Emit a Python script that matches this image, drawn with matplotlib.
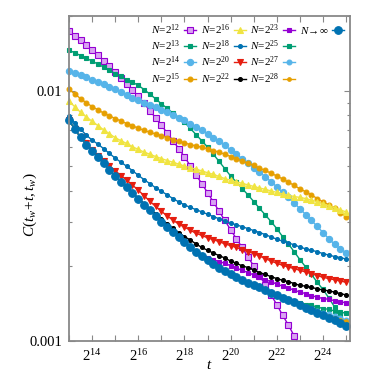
import numpy as np
import matplotlib
matplotlib.use("Agg")
import matplotlib.pyplot as plt
from matplotlib.lines import Line2D

plt.rcParams['font.family'] = 'serif'
plt.rcParams['font.serif'] = ['Liberation Serif']
plt.rcParams['mathtext.fontset'] = 'custom'
plt.rcParams['mathtext.rm'] = 'Liberation Serif'
plt.rcParams['mathtext.it'] = 'Liberation Serif:italic'

# t = 2^k, k in quarter steps
log2_t = [13, 13.25, 13.5, 13.75, 14, 14.25, 14.5, 14.75, 15, 15.25, 15.5, 15.75,
          16, 16.25, 16.5, 16.75, 17, 17.25, 17.5, 17.75, 18, 18.25, 18.5, 18.75,
          19, 19.25, 19.5, 19.75, 20, 20.25, 20.5, 20.75, 21, 21.25, 21.5, 21.75,
          22, 22.25, 22.5, 22.75, 23, 23.25, 23.5, 23.75, 24, 24.25, 24.5, 24.75, 25]

c_n12 = [0.01742, 0.01671, 0.01603, 0.01535, 0.01469, 0.01396, 0.01327, 0.01259, 0.01194,
         0.01132, 0.01072, 0.01012, 0.00955, 0.00895, 0.00837, 0.00783, 0.00731, 0.00682,
         0.00635, 0.00590, 0.00547, 0.00504, 0.00463, 0.00427, 0.00393, 0.00361, 0.00331,
         0.00304, 0.00279, 0.00257, 0.00237, 0.00217, 0.00200, 0.00183, 0.00168, 0.00153,
         0.00140, 0.00127, 0.00116, 0.00105, 0.00095]
c_n13 = [0.01459, 0.01426, 0.01390, 0.01355, 0.01321, 0.01285, 0.01250, 0.01213, 0.01178,
         0.01146, 0.01114, 0.01086, 0.01057, 0.01016, 0.00975, 0.00933, 0.00891, 0.00855,
         0.00818, 0.00785, 0.00752, 0.00711, 0.00671, 0.00634, 0.00598, 0.00560, 0.00524,
         0.00490, 0.00458, 0.00433, 0.00408, 0.00385, 0.00362, 0.00340, 0.00320, 0.00301,
         0.00282, 0.00262, 0.00245, 0.00228, 0.00212, 0.00198, 0.00185, 0.00172, 0.00161,
         0.00149, 0.00137, 0.00127, 0.00117]
c_n14 = [0.01202, 0.01180, 0.01159, 0.01138, 0.01114, 0.01091, 0.01067, 0.01042, 0.01019,
         0.00993, 0.00968, 0.00944, 0.00920, 0.00899, 0.00881, 0.00863, 0.00843, 0.00824,
         0.00804, 0.00785, 0.00766, 0.00743, 0.00721, 0.00698, 0.00676, 0.00653, 0.00630,
         0.00607, 0.00583, 0.00560, 0.00537, 0.00516, 0.00495, 0.00475, 0.00455, 0.00435,
         0.00414, 0.00394, 0.00376, 0.00357, 0.00339, 0.00321, 0.00304, 0.00288, 0.00272,
         0.00257, 0.00244, 0.00234, 0.00226]
c_n15 = [0.01019, 0.00975, 0.00935, 0.00899, 0.00869, 0.00843, 0.00818, 0.00798, 0.00778,
         0.00760, 0.00743, 0.00728, 0.00711, 0.00698, 0.00685, 0.00675, 0.00664, 0.00653,
         0.00641, 0.00631, 0.00621, 0.00612, 0.00604, 0.00597, 0.00589, 0.00579, 0.00570,
         0.00560, 0.00548, 0.00537, 0.00526, 0.00515, 0.00505, 0.00493, 0.00482, 0.00470,
         0.00458, 0.00446, 0.00433, 0.00420, 0.00407, 0.00396, 0.00385, 0.00372, 0.00361,
         0.00351, 0.00340, 0.00327, 0.00315]
c_n16 = [0.00914, 0.00867, 0.00824, 0.00789, 0.00759, 0.00729, 0.00701, 0.00676, 0.00652,
         0.00634, 0.00618, 0.00600, 0.00585, 0.00571, 0.00560, 0.00548, 0.00538, 0.00528,
         0.00520, 0.00511, 0.00502, 0.00494, 0.00488, 0.00480, 0.00472, 0.00465, 0.00456,
         0.00447, 0.00440, 0.00434, 0.00428, 0.00422, 0.00416, 0.00410, 0.00405, 0.00399,
         0.00394, 0.00388, 0.00384, 0.00379, 0.00376, 0.00372, 0.00367, 0.00361, 0.00355,
         0.00348, 0.00342, 0.00335, 0.00329]
c_n18 = [0.00794, 0.00748, 0.00705, 0.00668, 0.00637, 0.00615, 0.00589, 0.00564, 0.00540,
         0.00520, 0.00501, 0.00481, 0.00461, 0.00443, 0.00427, 0.00411, 0.00398, 0.00385,
         0.00372, 0.00361, 0.00351, 0.00343, 0.00336, 0.00329, 0.00322, 0.00315, 0.00309,
         0.00303, 0.00297, 0.00292, 0.00287, 0.00282, 0.00277, 0.00272, 0.00267, 0.00261,
         0.00256, 0.00251, 0.00247, 0.00243, 0.00238, 0.00234, 0.00231, 0.00228, 0.00224,
         0.00221, 0.00218, 0.00216, 0.00213]
c_n20 = [0.00766, 0.00706, 0.00658, 0.00618, 0.00583, 0.00553, 0.00527, 0.00504, 0.00481,
         0.00460, 0.00441, 0.00421, 0.00402, 0.00382, 0.00363, 0.00346, 0.00331, 0.00317,
         0.00305, 0.00294, 0.00286, 0.00278, 0.00270, 0.00265, 0.00259, 0.00255, 0.00250,
         0.00245, 0.00241, 0.00237, 0.00232, 0.00228, 0.00224, 0.00219, 0.00214, 0.00209,
         0.00205, 0.00201, 0.00198, 0.00195, 0.00192, 0.00189, 0.00186, 0.00183, 0.00180,
         0.00178, 0.00176, 0.00174, 0.00172]
c_n22 = [0.00766, 0.00705, 0.00655, 0.00612, 0.00575, 0.00545, 0.00515, 0.00486, 0.00459,
         0.00437, 0.00415, 0.00394, 0.00373, 0.00355, 0.00339, 0.00323, 0.00308, 0.00295,
         0.00283, 0.00272, 0.00262, 0.00254, 0.00245, 0.00237, 0.00231, 0.00225, 0.00220,
         0.00215, 0.00209, 0.00205, 0.00200, 0.00197, 0.00193, 0.00188, 0.00185, 0.00181,
         0.00178, 0.00175, 0.00173, 0.00170, 0.00167, 0.00166, 0.00164, 0.00162, 0.00160,
         0.00159, 0.00157, 0.00155, 0.00153]
c_n23 = [0.00766, 0.00705, 0.00655, 0.00612, 0.00575, 0.00545, 0.00515, 0.00485, 0.00457,
         0.00435, 0.00413, 0.00391, 0.00370, 0.00352, 0.00334, 0.00316, 0.00299, 0.00286,
         0.00273, 0.00261, 0.00249, 0.00238, 0.00227, 0.00220, 0.00215, 0.00212, 0.00208,
         0.00205, 0.00200, 0.00196, 0.00192, 0.00188, 0.00184, 0.00180, 0.00176, 0.00173,
         0.00169, 0.00166, 0.00163, 0.00160, 0.00157, 0.00155, 0.00152, 0.00150, 0.00148,
         0.00147, 0.00145, 0.00144, 0.00142]
c_n25 = [0.00766, 0.00705, 0.00655, 0.00612, 0.00575, 0.00545, 0.00515, 0.00485, 0.00457,
         0.00435, 0.00413, 0.00391, 0.00370, 0.00352, 0.00334, 0.00316, 0.00299, 0.00286,
         0.00273, 0.00261, 0.00249, 0.00238, 0.00227, 0.00219, 0.00211, 0.00204, 0.00197,
         0.00191, 0.00185, 0.00180, 0.00175, 0.00171, 0.00167, 0.00164, 0.00160, 0.00156,
         0.00153, 0.00150, 0.00148, 0.00145, 0.00142, 0.00140, 0.00139, 0.00137, 0.00135,
         0.00134, 0.00132, 0.00131, 0.00129]
c_n27 = [0.00766, 0.00705, 0.00655, 0.00612, 0.00575, 0.00545, 0.00515, 0.00485, 0.00457,
         0.00435, 0.00413, 0.00391, 0.00370, 0.00352, 0.00334, 0.00316, 0.00299, 0.00286,
         0.00273, 0.00261, 0.00249, 0.00238, 0.00227, 0.00219, 0.00211, 0.00204, 0.00197,
         0.00191, 0.00185, 0.00180, 0.00175, 0.00171, 0.00167, 0.00164, 0.00160, 0.00156,
         0.00153, 0.00149, 0.00146, 0.00143, 0.00139, 0.00137, 0.00134, 0.00132, 0.00130,
         0.00128, 0.00126, 0.00124, 0.00121]
c_n28 = [0.00766, 0.00705, 0.00655, 0.00612, 0.00575, 0.00545, 0.00515, 0.00485, 0.00457,
         0.00435, 0.00413, 0.00391, 0.00370, 0.00352, 0.00334, 0.00316, 0.00299, 0.00286,
         0.00273, 0.00261, 0.00249, 0.00238, 0.00227, 0.00219, 0.00211, 0.00204, 0.00197,
         0.00191, 0.00185, 0.00180, 0.00175, 0.00171, 0.00167, 0.00164, 0.00160, 0.00156,
         0.00153, 0.00149, 0.00146, 0.00143, 0.00139, 0.00136, 0.00133, 0.00131, 0.00128,
         0.00126, 0.00124, 0.00122, 0.00120]
c_inf = [0.00766, 0.00705, 0.00655, 0.00612, 0.00575, 0.00545, 0.00515, 0.00485, 0.00457,
         0.00435, 0.00413, 0.00391, 0.00370, 0.00352, 0.00334, 0.00316, 0.00299, 0.00286,
         0.00273, 0.00261, 0.00249, 0.00238, 0.00227, 0.00219, 0.00211, 0.00204, 0.00197,
         0.00191, 0.00185, 0.00180, 0.00175, 0.00171, 0.00167, 0.00164, 0.00160, 0.00156,
         0.00153, 0.00149, 0.00146, 0.00143, 0.00139, 0.00136, 0.00133, 0.00130, 0.00127,
         0.00124, 0.00121, 0.00118, 0.00115]

labels = [r'$N\!=\!2^{12}$', r'$N\!=\!2^{13}$', r'$N\!=\!2^{14}$', r'$N\!=\!2^{15}$',
          r'$N\!=\!2^{16}$', r'$N\!=\!2^{18}$', r'$N\!=\!2^{20}$', r'$N\!=\!2^{22}$',
          r'$N\!=\!2^{23}$', r'$N\!=\!2^{25}$', r'$N\!=\!2^{27}$', r'$N\!=\!2^{28}$',
          r'$N\!\rightarrow\!\infty$']

purple = '#9400D3'
green = '#009E73'
lblue = '#56B4E9'
orange = '#E69F00'
yellow = '#F0E442'
blue = '#0072B2'
red = '#E51E10'

# (data, color, marker, size, facecolor)
series = [
    (c_n12, purple, 's', 4.5, '#d9a3f2'),
    (c_n13, green, 's', 3.5, green),
    (c_n14, lblue, 'o', 4.5, lblue),
    (c_n15, orange, 'o', 3.5, orange),
    (c_n16, yellow, '^', 4.0, yellow),
    (c_n18, blue, 'o', 2.8, blue),
    (c_n20, red, 'v', 4.0, red),
    (c_n22, 'black', 'o', 2.8, 'black'),
    (c_n23, purple, 's', 3.5, purple),
    (c_n25, green, 's', 3.0, green),
    (c_n27, lblue, 'o', 3.5, lblue),
    (c_n28, orange, 'o', 2.6, orange),
    (c_inf, blue, 'o', 5.5, blue),
]

fig = plt.figure(figsize=(3.74, 3.74), dpi=100)
ax = fig.add_axes([0.1845, 0.088, 0.7513, 0.869])

handles = []
for (c, col, mk, ms, fc), lab in zip(series, labels):
    t = 2.0 ** np.array(log2_t[:len(c)])
    ln, = ax.plot(t, c, color=col, lw=1.0, marker=mk, ms=ms, mfc=fc, mec=col, mew=0.8,
                  label=lab, clip_on=(c is c_n12))
    handles.append(ln)

ax.set_xscale('log', base=2)
ax.set_yscale('log')
ax.set_xlim(2 ** 13, 2 ** 25.17)
ax.set_ylim(0.001, 0.02)

ax.set_xticks([2.0 ** k for k in range(13, 26)])
ax.set_xticklabels([r'$2^{%d}$' % k if k % 2 == 0 else '' for k in range(13, 26)])
ax.xaxis.set_minor_locator(matplotlib.ticker.NullLocator())
ax.set_yticks([0.001, 0.01])
ax.set_yticklabels(['0.001', '0.01'])
ax.yaxis.set_minor_formatter(matplotlib.ticker.NullFormatter())

for s in ax.spines.values():
    s.set_color('#888888')
    s.set_linewidth(1.3)
ax.tick_params(which='both', direction='in', top=True, right=True, color='#888888',
               labelsize=10.5)
ax.tick_params(which='major', length=4, width=0.8, pad=5)
ax.tick_params(which='minor', length=2.5, width=0.8)

ax.set_xlabel(r'$t$', fontsize=11)
ax.xaxis.set_label_coords(0.5, -0.055)
ax.set_ylabel(r'$C(t_w\!+\!t,t_w)$', fontsize=11)
ax.yaxis.set_label_coords(-0.105, 0.42)

# pad last legend column so columns hold 4, 4, 4, 1 entries
blank = [Line2D([], [], linestyle='none') for _ in range(3)]
ax.legend(handles + blank, labels + [''] * 3, loc='upper right',
          bbox_to_anchor=(1.0, 1.0), ncol=4, frameon=False, markerfirst=False,
          fontsize=8, handlelength=1.1, handletextpad=0.3, columnspacing=0.4,
          labelspacing=0.15, borderaxespad=0.15)

fig.savefig('out.png', dpi=100)
